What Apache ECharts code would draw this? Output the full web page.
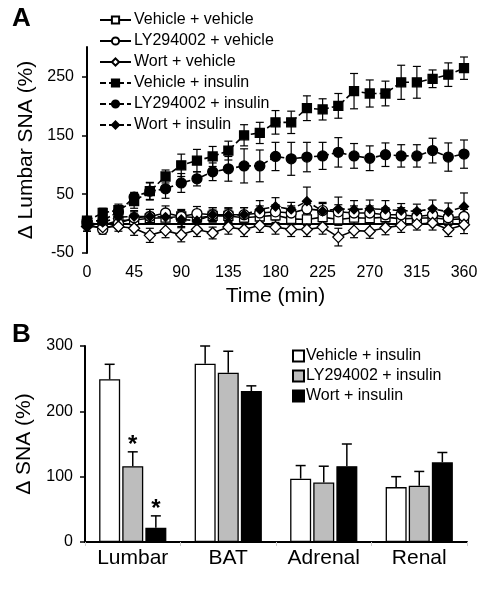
<!DOCTYPE html>
<html><head><meta charset="utf-8">
<script src="https://cdn.jsdelivr.net/npm/echarts@6/dist/echarts.min.js"></script>
<style>html,body{margin:0;padding:0;background:#fff}#c{width:489px;height:593px}</style>
</head><body><div id="c"></div>
<script>
// ---- Panel A data ----
const time = [0,15,30,45,60,75,90,105,120,135,150,165,180,195,210,225,240,255,270,285,300,315,330,345,360];
const yTicksA = [-50,50,150,250];
const vehVeh    = [2,-3,5,6,9,10,12,10,13,13,10,12,14,8,7,11,7,10,9,11,8,9,10,7,8];
const vehVehErr = [8,8,8,10,10,10,10,10,10,10,10,10,12,10,10,10,10,10,10,10,10,10,10,10,10];
const lyVeh     = [0,-10,0,10,12,18,12,17,15,15,15,18,20,18,25,22,20,18,18,15,15,12,15,10,12];
const lyVehErr  = [8,8,8,10,12,12,12,12,12,12,12,12,12,12,12,12,12,12,12,12,12,12,12,12,12];
const wortVeh   = [-5,-6,-5,-8,-20,-12,-19,-10,-16,-6,-10,-3,-6,-10,-10,-6,-23,-12,-13,-7,-3,-1,1,-10,-2];
const wortVehErr= [8,8,8,12,12,12,12,12,10,12,12,12,12,12,12,12,15,12,12,12,12,10,12,12,15];
const vehIns    = [5,18,23,38,55,80,99,107,114,124,150,154,172,172,196,194,200,225,221,221,240,240,246,253,264];
const vehInsErr = [5,8,10,12,15,11,19,19,17,16,18,18,20,19,21,18,21,30,23,21,29,27,15,20,19];
const lyIns     = [4,5,20,45,55,59,69,76,88,93,98,98,114,110,113,115,121,115,111,117,115,115,124,113,118];
const lyInsErr  = [6,8,10,8,14,16,16,12,15,21,29,27,24,28,25,23,25,21,21,20,19,19,21,24,24];
const wortIns   = [-5,2,11,12,12,11,7,5,15,14,15,24,29,24,38,21,25,24,25,24,22,21,25,20,29];
const wortInsErr= [8,8,10,10,12,12,12,12,12,12,12,15,15,12,24,15,20,15,15,15,12,12,15,15,23];

// ---- Panel B data ----
const organs = ['Lumbar','BAT','Adrenal','Renal'];
const vehInsB = [249,273,97,84];
const vehInsBErr = [23,27,20,16];
const lyInsB = [116,259,91,86];
const lyInsBErr = [22,33,25,22];
const wortInsB = [22,231,116,122];
const wortInsBErr = [18,8,34,15];
const lySig = [1,0,0,0];
const wortSig = [1,0,0,0];

const FONT = '"Liberation Sans", Arial, sans-serif';
const chart = echarts.init(document.getElementById('c'));

function errA(params, api){
  const x = api.value(0), y = api.value(1), e = api.value(2);
  const t = api.coord([x, y+e]), b = api.coord([x, y-e]);
  const cw = 4, st = {stroke:'#000', lineWidth:1.2};
  return {type:'group', children:[
    {type:'line', shape:{x1:t[0],y1:t[1],x2:b[0],y2:b[1]}, style:st},
    {type:'line', shape:{x1:t[0]-cw,y1:t[1],x2:t[0]+cw,y2:t[1]}, style:st},
    {type:'line', shape:{x1:b[0]-cw,y1:b[1],x2:b[0]+cw,y2:b[1]}, style:st}
  ]};
}
function errB(offset){
  return function(params, api){
    const c = api.value(0), v = api.value(1), e = api.value(2), s = api.value(3);
    const p0 = api.coord([c, v]), p1 = api.coord([c, v+e]);
    const x = p0[0] + offset, cw = 5, st = {stroke:'#000', lineWidth:1.5};
    const ch = [
      {type:'line', shape:{x1:x,y1:p0[1],x2:x,y2:p1[1]}, style:st},
      {type:'line', shape:{x1:x-cw,y1:p1[1],x2:x+cw,y2:p1[1]}, style:st}
    ];
    if (s) ch.push({type:'text', style:{text:'*', x:x, y:p1[1]-6, textAlign:'center', textVerticalAlign:'middle', font:'bold 24px '+FONT, fill:'#000'}});
    return {type:'group', children:ch};
  };
}
const pairs = (vals, errs) => time.map((t,i)=>[t, vals[i], errs[i]]);
const pts = vals => time.map((t,i)=>[t, vals[i]]);

function lineSeries(name, vals, symbol, size, fill, dashed){
  return {
    name, type:'line', xAxisIndex:0, yAxisIndex:0, data: pts(vals),
    symbol, symbolSize:size, showAllSymbol:true, z:3,
    lineStyle:{color:'#000', width:1.6, type: dashed ? [6,3] : 'solid'},
    itemStyle:{color:fill, borderColor:'#000', borderWidth:1.3},
    emphasis:{disabled:true}, animation:false
  };
}
function errSeriesA(vals, errs){
  return {type:'custom', xAxisIndex:0, yAxisIndex:0, renderItem:errA, data:pairs(vals, errs), encode:{x:0,y:1}, z:2, silent:true, animation:false};
}
function barSeries(name, vals, color){
  return {name:'B:'+name, type:'bar', xAxisIndex:1, yAxisIndex:1, data:vals, barWidth:21, barGap:'10%',
    itemStyle:{color, borderColor:'#000', borderWidth:1.3}, z:2, animation:false, emphasis:{disabled:true}};
}
function errSeriesB(vals, errs, sig, off){
  return {type:'custom', xAxisIndex:1, yAxisIndex:1, renderItem:errB(off),
    data: organs.map((o,i)=>[i, vals[i], errs[i], sig[i]]), encode:{x:0,y:1}, z:3, silent:true, animation:false};
}

const axisTxt = {color:'#000', fontFamily:FONT};
const option = {
  animation:false,
  textStyle:{fontFamily:FONT},
  graphic:[
    {type:'text', left:12, top:6, style:{text:'A', font:'bold 26px '+FONT, fill:'#000'}},
    {type:'text', left:12, top:322, style:{text:'B', font:'bold 26px '+FONT, fill:'#000'}}
  ],
  legend:[
    {left:94, top:7, orient:'vertical', itemWidth:31, itemHeight:9, itemGap:5, selectedMode:false,
     textStyle:{fontSize:16, color:'#000', fontFamily:FONT, padding:[0,0,0,-2]},
     data:['Vehicle + vehicle','LY294002 + vehicle','Wort + vehicle','Vehicle + insulin','LY294002 + insulin','Wort + insulin']},
    {left:287, top:343, orient:'vertical', itemWidth:11, itemHeight:11, itemGap:4, selectedMode:false, icon:'rect',
     textStyle:{fontSize:16, color:'#000', fontFamily:FONT, padding:[0,0,0,-3]},
     formatter: n => n.replace('B:',''),
     data:['B:Vehicle + insulin','B:LY294002 + insulin','B:Wort + insulin']}
  ],
  grid:[
    {left:87, right:25, top:47, bottom:340},
    {left:85, right:22, top:346, bottom:51}
  ],
  xAxis:[
    {type:'value', gridIndex:0, min:0, max:360, interval:45,
     name:'Time (min)', nameLocation:'middle', nameGap:33, nameTextStyle:{fontSize:21, color:'#000', fontFamily:FONT},
     axisLine:{lineStyle:{color:'#000', width:2}}, axisTick:{show:true, length:5, lineStyle:{color:'#000', width:1.5}},
     axisLabel:Object.assign({fontSize:16, margin:12}, axisTxt), splitLine:{show:false}},
    {type:'category', gridIndex:1, data:organs,
     axisLine:{lineStyle:{color:'#000', width:2}}, axisTick:{show:true, length:4, lineStyle:{color:'#ccc', width:1}},
     axisLabel:Object.assign({fontSize:21, margin:6}, axisTxt)}
  ],
  yAxis:[
    {type:'value', gridIndex:0, min:-50, max:300,
     name:'\u0394 Lumbar SNA (%)', nameLocation:'middle', nameGap:50, nameTextStyle:{fontSize:21, color:'#000', fontFamily:FONT},
     axisLine:{show:true, lineStyle:{color:'#000', width:2}},
     axisTick:{show:true, length:5, customValues:yTicksA, lineStyle:{color:'#000', width:1.5}},
     axisLabel:Object.assign({fontSize:16, margin:13, customValues:yTicksA}, axisTxt), splitLine:{show:false}},
    {type:'value', gridIndex:1, min:0, max:300, interval:100,
     name:'\u0394 SNA (%)', nameLocation:'middle', nameGap:50, nameTextStyle:{fontSize:21, color:'#000', fontFamily:FONT},
     axisLine:{show:true, lineStyle:{color:'#000', width:2}},
     axisTick:{show:true, length:5, lineStyle:{color:'#000', width:1.5}},
     axisLabel:Object.assign({fontSize:16, margin:12}, axisTxt), splitLine:{show:false}}
  ],
  series:[
    errSeriesA(vehVeh, vehVehErr), errSeriesA(lyVeh, lyVehErr), errSeriesA(wortVeh, wortVehErr),
    errSeriesA(vehIns, vehInsErr), errSeriesA(lyIns, lyInsErr), errSeriesA(wortIns, wortInsErr),
    lineSeries('Vehicle + vehicle', vehVeh, 'rect', 9, '#fff', false),
    lineSeries('LY294002 + vehicle', lyVeh, 'circle', 10, '#fff', false),
    lineSeries('Wort + vehicle', wortVeh, 'diamond', 11, '#fff', false),
    lineSeries('Vehicle + insulin', vehIns, 'rect', 9, '#000', true),
    lineSeries('LY294002 + insulin', lyIns, 'circle', 10, '#000', true),
    lineSeries('Wort + insulin', wortIns, 'diamond', 9, '#000', true),
    barSeries('Vehicle + insulin', vehInsB, '#fff'),
    barSeries('LY294002 + insulin', lyInsB, '#bdbdbd'),
    barSeries('Wort + insulin', wortInsB, '#000'),
    errSeriesB(vehInsB, vehInsBErr, [0,0,0,0], -23.1),
    errSeriesB(lyInsB, lyInsBErr, lySig, 0),
    errSeriesB(wortInsB, wortInsBErr, wortSig, 23.1)
  ]
};
chart.setOption(option);
</script></body></html>
